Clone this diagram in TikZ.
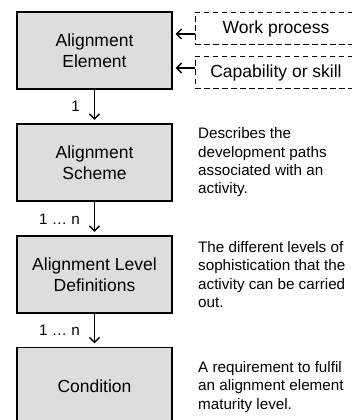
\documentclass[tikz,border=0pt]{standalone}
\usepackage{fontspec}
\setmainfont{Liberation Sans}
\usetikzlibrary{arrows.meta}
\definecolor{boxgray}{RGB}{221,221,221}
\begin{document}
\begin{tikzpicture}[x=1pt,y=-1pt,
  box/.style={draw, line width=1.1pt, fill=boxgray, minimum width=155pt, minimum height=77pt, inner sep=0pt, align=center, font=\fontsize{17.5}{21}\selectfont},
  dbox/.style={draw, dash pattern=on 5.5pt off 3.5pt, line width=1pt, minimum width=162pt, minimum height=32pt, inner sep=0pt, font=\fontsize{17.5}{21}\selectfont},
  arr/.style={line width=1.4pt, -{Straight Barb[length=5pt,width=10pt]}},
  lbl/.style={font=\fontsize{15.2}{18}\selectfont, inner sep=0pt, anchor=east},
  desc/.style={font=\fontsize{15.2}{18.3}\selectfont, inner sep=0pt, anchor=west, align=left}]
\useasboundingbox (0,0) rectangle (352,420);
\clip (0,0) rectangle (352,420);
% main boxes
\node[box] (ae) at (94.5,50.5) {Alignment\\Element};
\node[box] (as) at (94.5,162.5) {Alignment\\Scheme};
\node[box] (al) at (94.5,274.5) {Alignment Level\\Definitions};
\node[box] (co) at (94.5,386) {Condition};
% dashed boxes
\node[dbox] (wp) at (276,28.5) {Work process};
\node[dbox] (cs) at (276,72.5) {Capability or skill};
\coordinate (a1) at (0,34);
\coordinate (a2) at (0,68);
\draw[arr, shorten >=3pt] (wp.west |- a1) -- (ae.east |- a1);
\draw[arr, shorten >=3pt] (cs.west |- a2) -- (ae.east |- a2);
% vertical arrows
\draw[arr, shorten >=3.5pt] (ae) -- (as);
\draw[arr, shorten >=3.5pt] (as) -- (al);
\draw[arr, shorten >=3.5pt] (al) -- (co);
% multiplicity labels
\node[lbl] (m1) at (80,106) {1};
\node[lbl] (m2) at (80,219) {1 … n};
\node[lbl] (m3) at (80,330) {1 … n};
% descriptions
\node[desc] (d1) at (198,162.5) {Describes the\\development paths\\associated with an\\activity.};
\node[desc] (d2) at (198,274.5) {The different levels of\\sophistication that the\\activity can be carried\\out.};
\node[desc] (d3) at (198,387) {A requirement to fulfil\\an alignment element\\maturity level.};
\end{tikzpicture}
\end{document}
